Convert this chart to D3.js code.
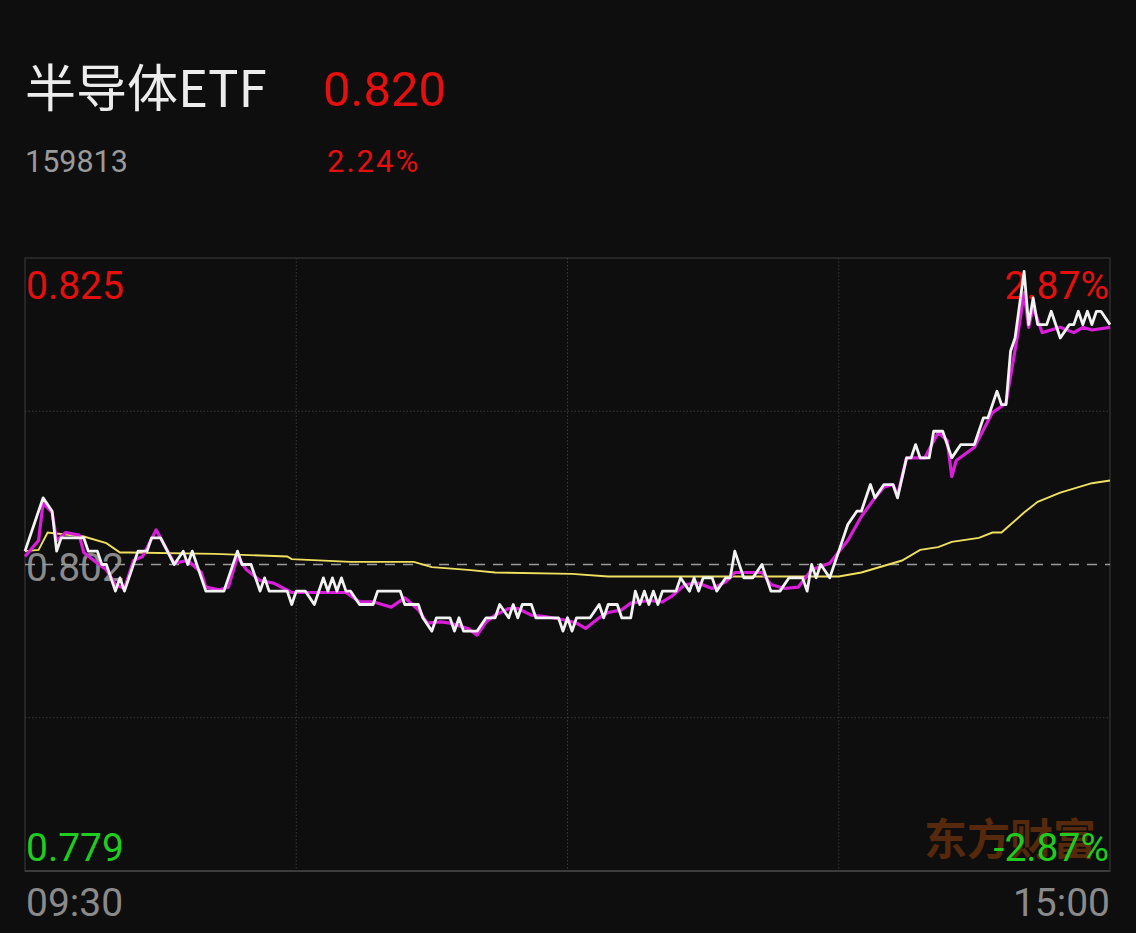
<!DOCTYPE html>
<html>
<head>
<meta charset="utf-8">
<script src="https://cdn.jsdelivr.net/npm/d3@7"></script>
<style>
  html, body { margin: 0; padding: 0; background: #0e0e0e; }
  svg { display: block; }
</style>
</head>
<body>
<svg id="chart" width="1136" height="933"></svg>
<script>
// ---------- data ----------
const title = "半导体ETF";
const code = "159813";
const lastPrice = "0.820";
const changePct = "2.24%";
const preClose = 0.802;
const priceMax = 0.825, priceMin = 0.779;
const yLabels = ["0.825", "0.802", "0.779"];
const pctLabels = ["2.87%", "-2.87%"];
const timeLabels = ["09:30", "15:00"];
const watermark = "东方财富";

// price line (white): minute index (0..240) and price
const priceMinute = [0,4,6,7,8,13,14,16,17,18,20,21,22,25,27,28,30,33,35,36,37,40,44,47,48,50,52,53,54,58,59,60,62,64,66,67,68,69,70,71,72,74,77,78,83,84,87,88,90,91,94,95,96,97,100,102,104,105,107,108,109,110,112,113,118,119,120,121,122,125,127,128,129,131,132,134,135,136,137,138,139,140,141,144,145,147,148,149,150,152,153,155,156,157,159,161,163,164,165,167,169,172,173,174,175,176,178,181,182,184,185,187,188,190,192,193,195,196,197,198,200,201,203,205,207,210,212,213,215,216,217,218,219,221,222,223,224,226,227,229,231,232,233,234,235,236,237,238,240];
const priceVal = [0.803,0.807,0.806,0.803,0.804,0.804,0.803,0.803,0.802,0.802,0.800,0.801,0.800,0.803,0.803,0.804,0.804,0.802,0.803,0.802,0.803,0.800,0.800,0.803,0.802,0.802,0.800,0.801,0.800,0.800,0.799,0.800,0.800,0.799,0.801,0.800,0.801,0.800,0.801,0.800,0.800,0.799,0.799,0.800,0.800,0.799,0.799,0.798,0.797,0.798,0.798,0.797,0.798,0.797,0.797,0.798,0.798,0.799,0.798,0.799,0.798,0.799,0.799,0.798,0.798,0.797,0.798,0.797,0.798,0.798,0.799,0.798,0.799,0.799,0.798,0.798,0.800,0.799,0.800,0.799,0.800,0.799,0.800,0.800,0.801,0.800,0.801,0.800,0.801,0.801,0.800,0.801,0.801,0.803,0.801,0.801,0.802,0.801,0.800,0.800,0.801,0.801,0.800,0.802,0.801,0.802,0.801,0.804,0.805,0.806,0.806,0.808,0.807,0.808,0.808,0.807,0.810,0.810,0.811,0.810,0.810,0.812,0.812,0.810,0.811,0.811,0.813,0.813,0.815,0.814,0.814,0.818,0.819,0.824,0.820,0.822,0.820,0.820,0.821,0.819,0.820,0.820,0.821,0.820,0.821,0.820,0.821,0.821,0.820,0.820];

// magenta line
const iopvMinute = [0,3,4,6,7,9,12,13,16,18,20,22,24,26,29,33,36,39,40,43,45,47,49,52,55,59,65,71,74,77,79,81,84,87,89,92,94,98,100,102,104,107,109,112,115,120,122,124,127,129,132,134,138,141,143,146,149,152,155,157,160,163,165,168,171,174,178,182,185,188,190,192,193,195,199,202,204,205,206,210,214,217,220,221,222,223,225,229,232,234,236,240];
const iopvVal = [0.8026,0.8038,0.8066,0.8059,0.8038,0.8044,0.8042,0.8029,0.8021,0.8016,0.8005,0.8002,0.8023,0.8026,0.8046,0.8021,0.8023,0.8014,0.8003,0.8001,0.8003,0.8026,0.8016,0.8008,0.8006,0.7999,0.7999,0.7999,0.7992,0.7992,0.7990,0.7988,0.7995,0.7986,0.7976,0.7977,0.7976,0.7972,0.7967,0.7977,0.7982,0.7987,0.7987,0.7982,0.7981,0.7978,0.7976,0.7972,0.7980,0.7984,0.7986,0.7991,0.7993,0.7992,0.7996,0.8005,0.8006,0.8002,0.8007,0.8014,0.8014,0.8014,0.8005,0.8002,0.8003,0.8016,0.8021,0.8038,0.8056,0.8070,0.8078,0.8080,0.8072,0.8100,0.8100,0.8119,0.8113,0.8086,0.8098,0.8108,0.8134,0.8141,0.8201,0.8224,0.8198,0.8213,0.8194,0.8198,0.8194,0.8198,0.8196,0.8198];

// average price line (yellow)
const avgMinute = [0,3,5,13,18,21,23,42,58,59,72,86,90,98,104,121,129,180,185,194,198,202,205,211,214,216,221,224,229,236,240];
const avgVal = [0.8030,0.8031,0.8044,0.8041,0.8036,0.8029,0.8029,0.8028,0.8026,0.8024,0.8022,0.8022,0.8018,0.8016,0.8014,0.8013,0.8011,0.8011,0.8014,0.8023,0.8031,0.8033,0.8037,0.8040,0.8044,0.8044,0.8059,0.8067,0.8074,0.8081,0.8083];

(function () {
const svg = d3.select("#chart");
const W = 1136, H = 933;
const pl = 25, pr = 1110, pt = 258, pb = 871;

svg.append("rect").attr("width", W).attr("height", H).attr("fill", "#0e0e0e");

const x = d3.scaleLinear().domain([0, 240]).range([pl, pr]);
const y = d3.scaleLinear().domain([priceMin, priceMax]).range([pb, pt]);

// header
svg.append("text").attr("x", 25).attr("y", 107)
  .attr("font-family", "'Noto Sans CJK SC', Roboto, sans-serif")
  .attr("font-size", 51).attr("fill", "#ececec").text(title);
svg.append("text").attr("x", 323).attr("y", 106)
  .attr("font-family", "Roboto, sans-serif")
  .attr("font-size", 49).attr("fill", "#e3100f").text(lastPrice);
svg.append("text").attr("x", 25).attr("y", 172)
  .attr("font-family", "Roboto, sans-serif")
  .attr("font-size", 30.5).attr("fill", "#9a9a9a").text(code);
svg.append("text").attr("x", 327).attr("y", 172)
  .attr("font-family", "Roboto, sans-serif").attr("letter-spacing", 2)
  .attr("font-size", 31).attr("fill", "#e3100f").text(changePct);

// frame
svg.append("rect").attr("x", pl).attr("y", pt)
  .attr("width", pr - pl).attr("height", pb - pt)
  .attr("fill", "none").attr("stroke", "#2e2e2e").attr("stroke-width", 1.5);
svg.append("line").attr("x1", pl).attr("x2", pr).attr("y1", pb).attr("y2", pb)
  .attr("stroke", "#3c3c3c").attr("stroke-width", 2);

// dotted grid
const vTicks = [60, 120, 180];
svg.append("g").selectAll("line").data(vTicks).join("line")
  .attr("x1", d => x(d)).attr("x2", d => x(d))
  .attr("y1", pt).attr("y2", pb)
  .attr("stroke", "#3a3a3a").attr("stroke-width", 1).attr("stroke-dasharray", "1.5,2");
const hTicks = [priceMin + (priceMax - priceMin) * 0.25, priceMin + (priceMax - priceMin) * 0.75];
svg.append("g").selectAll("line").data(hTicks).join("line")
  .attr("x1", pl).attr("x2", pr)
  .attr("y1", d => y(d)).attr("y2", d => y(d))
  .attr("stroke", "#3a3a3a").attr("stroke-width", 1).attr("stroke-dasharray", "1.5,2");

// watermark
svg.append("text").attr("x", 1096).attr("y", 855).attr("text-anchor", "end")
  .attr("font-family", "'Noto Sans CJK SC', sans-serif").attr("font-weight", 700)
  .attr("font-size", 43).attr("fill", "#56290c").text(watermark);

// axis labels
const labelFont = "Roboto, sans-serif";
const labelSize = 39;
const yLabelData = [
  {t: yLabels[0], v: priceMax, c: "#e3100f", dy: 41},
  {t: yLabels[1], v: preClose, c: "#8a8a8a", dy: 16},
  {t: yLabels[2], v: priceMin, c: "#1fcc1f", dy: -10}
];
svg.append("g").selectAll("text").data(yLabelData).join("text")
  .attr("x", 26).attr("y", d => y(d.v) + d.dy)
  .attr("font-family", labelFont).attr("font-size", labelSize)
  .attr("fill", d => d.c).text(d => d.t);
svg.append("text").attr("x", 1109).attr("y", y(priceMax) + 41)
  .attr("text-anchor", "end").attr("font-family", labelFont).attr("font-size", labelSize)
  .attr("fill", "#e3100f").text(pctLabels[0]);
svg.append("text").attr("x", 1109).attr("y", y(priceMin) - 10)
  .attr("text-anchor", "end").attr("font-family", labelFont).attr("font-size", labelSize)
  .attr("fill", "#1fcc1f").text(pctLabels[1]);

svg.append("text").attr("x", 26).attr("y", 916)
  .attr("font-family", labelFont).attr("font-size", labelSize)
  .attr("fill", "#8a8a8a").text(timeLabels[0]);
svg.append("text").attr("x", 1110).attr("y", 916).attr("text-anchor", "end")
  .attr("font-family", labelFont).attr("font-size", labelSize)
  .attr("fill", "#8a8a8a").text(timeLabels[1]);

// pre-close dashed line
svg.append("line").attr("x1", pl).attr("x2", pr)
  .attr("y1", y(preClose)).attr("y2", y(preClose))
  .attr("stroke", "#9a9a9a").attr("stroke-width", 1.6).attr("stroke-dasharray", "10,8");

// lines
const line = d3.line().x(d => x(d[0])).y(d => y(d[1]));
const avgData = avgMinute.map((m, i) => [m, avgVal[i]]);
const iopvData = iopvMinute.map((m, i) => [m, iopvVal[i]]);
const priceData = priceMinute.map((m, i) => [m, priceVal[i]]);

svg.append("path").datum(avgData).attr("d", line)
  .attr("fill", "none").attr("stroke", "#f0e060").attr("stroke-width", 1.9);
svg.append("path").datum(iopvData).attr("d", line)
  .attr("fill", "none").attr("stroke", "#d81ed8").attr("stroke-width", 3.2)
  .attr("stroke-linejoin", "round");
svg.append("path").datum(priceData).attr("d", line)
  .attr("fill", "none").attr("stroke", "#f2f2f2").attr("stroke-width", 2.8)
  .attr("stroke-linejoin", "round");
})();
</script>
</body>
</html>
